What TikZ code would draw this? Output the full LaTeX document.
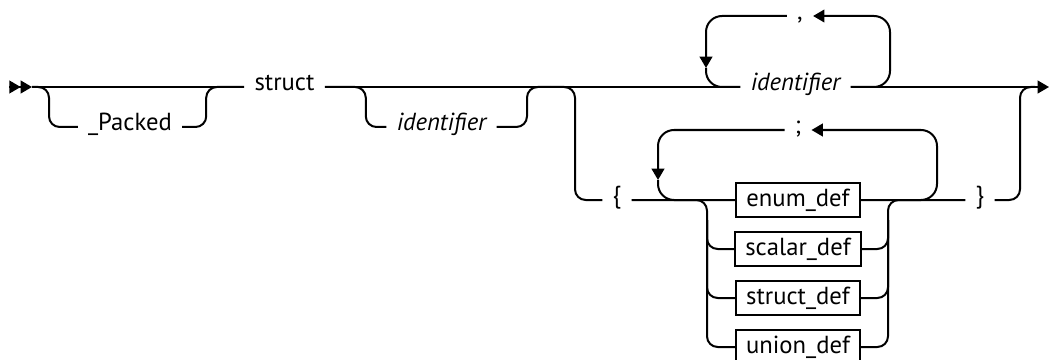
\documentclass[tikz,border=0pt]{standalone}
\usepackage{fontspec}
\setmainfont{PT Sans}
\usetikzlibrary{arrows.meta,positioning}
\newcommand\railfont{\fontsize{18.5}{21}\selectfont}
\tikzstyle{kw}=[anchor=mid, inner xsep=7pt, inner ysep=0pt, font=\railfont]
\tikzstyle{var}=[kw, font=\railfont\itshape]
\tikzstyle{nt}=[draw, minimum height=26pt, inner xsep=7.5pt, font=\railfont]
\tikzstyle{rail}=[rounded corners=8pt]
\tikzstyle{back}=[rounded corners=12pt]

\begin{document}
\begin{tikzpicture}[x=0.75pt,y=-0.75pt,line width=1.5pt,>={Triangle[length=8.5pt,width=9.5pt]}]
    \useasboundingbox (0,0) rectangle (1050,360);
    \coordinate (s0) at (9,87);
    \coordinate (s1) at (32,87);
    \coordinate (j1) at (550,87);
    \coordinate (j2) at (1035,87);
    \coordinate (fin) at (1049,87);
    \node [kw] (packed) at (130,127) {\_Packed};
    \node [kw] (struct) at (284.5,87) {struct};
    \node [var] (id1) at (441.5,127) {identifier};
    \node [var] (id2) at (795.5,87) {identifier};
    \node [kw] (comma) at (800,16) {,};
    \node [kw] (lbrace) at (617,200) {\{};
    \node [kw] (rbrace) at (980,200) {\}};
    \node [kw] (semi) at (798,130) {;};
    \node [nt] (enum) at (798,200) {enum\_def};
    \node [nt, below=9.25pt of enum] (scalar) {scalar\_def};
    \node [nt, below=9.25pt of scalar] (structdef) {struct\_def};
    \node [nt, below=9.25pt of structdef] (union) {union\_def};
    % main line
    \draw[->>] (s0) -- (s1);
    \draw (s1) -- (struct.mid west) (struct.mid east) -- (id2.mid west);
    \draw[->] (id2.mid east) -- (fin);
    % optional parts
    \draw[rail] (s1) -- ++(17,0) |- (packed.mid west);
    \draw[rail] (struct.mid west) -- ++(-38,0) |- (packed.mid east);
    \draw[rail] (struct.mid east) -- ++(41,0) |- (id1.mid west);
    \draw[rail] (j1) -- ++(-23,0) |- (id1.mid east);
    \draw[rail] (j1) -- ++(25,0) |- (lbrace.mid west);
    \draw[rail] (j2) -- ++(-15,0) |- (rbrace.mid east);
    % repeat with comma
    \coordinate (rt) at (890,16);
    \coordinate (lt) at (706,68);
    \draw[back,->] (id2.mid east) -| (rt) -- (comma.mid east);
    \draw[back,->] (comma.mid west) -| (lt);
    \draw[back] (lt) |- (id2.mid west);
    % repeat with semicolon
    \coordinate (rs) at (937,130);
    \coordinate (ls) at (658,180);
    \draw[back,->] (enum.east) -| (rs) -- (semi.mid east);
    \draw[back,->] (semi.mid west) -| (ls);
    \draw[back] (ls) |- (enum.west);
    % member choices
    \coordinate (cl) at (707,200);
    \coordinate (cr) at (888,200);
    \draw (lbrace.mid east) -- (enum.west) (enum.east) -- (rbrace.mid west);
    \draw[rail] (union.west) -| (cl) -- (lbrace.mid east);
    \draw[rail] (union.east) -| (cr) -- (rbrace.mid west);
    \draw[rail] (scalar.west) -| ([yshift=-15pt]cl);
    \draw[rail] (scalar.east) -| ([yshift=-15pt]cr);
    \draw[rail] (structdef.west) -| ([yshift=-15pt]cl);
    \draw[rail] (structdef.east) -| ([yshift=-15pt]cr);
\end{tikzpicture}
\end{document}
